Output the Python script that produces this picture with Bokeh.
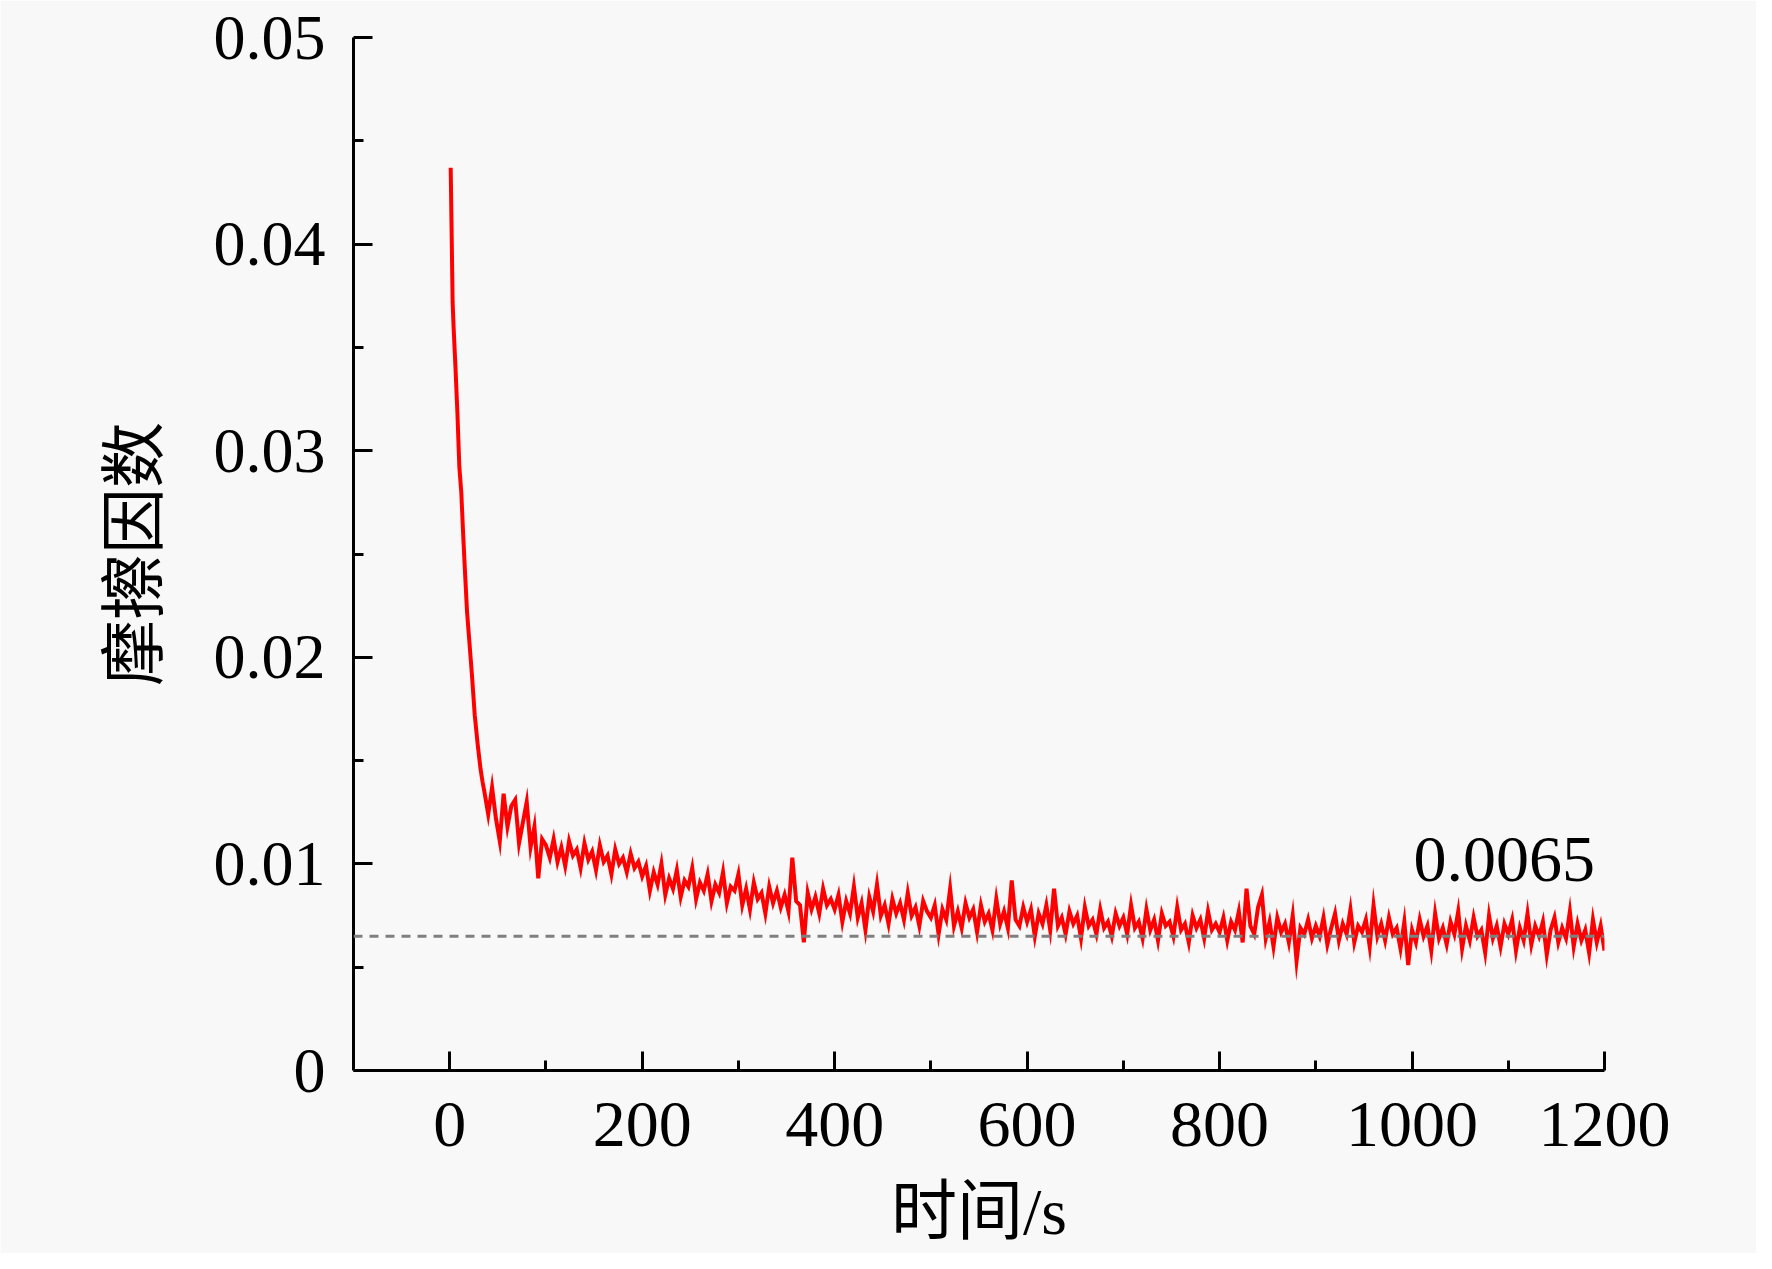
from bokeh.plotting import figure
from bokeh.models import Span, FixedTicker, ColumnDataSource
from bokeh.core.properties import value
from bokeh.embed import file_html
from bokeh.resources import INLINE

# ---- data ----
drop_time = [1, 2, 3, 4, 6, 8, 10, 12, 14, 16, 18, 20, 23, 26, 29, 32, 34]
drop_cof = [0.0437, 0.0405, 0.0372, 0.0360, 0.0340, 0.0318, 0.0292, 0.0280, 0.0259,
            0.0240, 0.0222, 0.0210, 0.0192, 0.0172, 0.0158, 0.0146, 0.0140]

steady_time = list(range(36, 1201, 4))
# values in units of 1e-4
steady_cof_e4 = [
    # 36-96
    135, 124, 137, 122, 111, 134, 118, 128, 131, 110, 120, 130, 108, 118, 93, 112,
    # 100-196
    109, 103, 112, 101, 108, 99, 111, 104, 107, 98, 110, 102, 106, 97, 109, 101, 104, 95, 107, 100, 103, 96, 105, 98, 101,
    # 200-296
    94, 99, 87, 96, 90, 100, 85, 93, 88, 97, 84, 92, 89, 98, 83, 91, 87, 95, 82, 90, 86, 96, 81, 89, 87,
    # 300-396
    95, 80, 88, 78, 91, 83, 86, 76, 89, 81, 87, 79, 85, 77, 103, 82, 80, 62, 86, 78, 84, 76, 88, 80, 83,
    # 400-496
    78, 85, 72, 82, 76, 89, 74, 81, 68, 84, 77, 90, 75, 80, 71, 83, 76, 81, 73, 86, 75, 79, 70, 82, 77,
    # 500-596
    74, 80, 66, 78, 73, 88, 70, 77, 69, 81, 74, 78, 67, 80, 72, 76, 68, 83, 71, 77, 69, 92, 73, 70, 79,
    # 600-696
    72, 78, 65, 76, 71, 80, 68, 88, 70, 74, 66, 77, 71, 75, 64, 79, 70, 73, 66, 78, 69, 72, 65, 76, 70,
    # 700-796
    74, 66, 80, 69, 72, 64, 78, 68, 73, 63, 76, 70, 72, 65, 79, 68, 71, 62, 75, 69, 73, 64, 77, 68, 71,
    # 800-896
    67, 74, 63, 72, 68, 77, 62, 88, 70, 66, 79, 85, 64, 72, 60, 74, 67, 71, 62, 75, 53, 69, 66, 73, 64,
    # 900-996
    70, 65, 74, 61, 69, 76, 63, 71, 66, 78, 62, 70, 67, 73, 60, 80, 65, 71, 63, 74, 66, 69, 59, 72, 51,
    # 1000-1096
    68, 62, 73, 65, 70, 58, 76, 64, 69, 61, 72, 66, 77, 59, 70, 63, 74, 65, 68, 57, 75, 64, 70, 60, 71,
    # 1100-1196
    66, 73, 58, 69, 63, 76, 61, 70, 65, 72, 56, 68, 74, 62, 69, 64, 77, 60, 71, 63, 68, 57, 73, 62, 70,
    # 1200
    58,
]

ref_value = 0.0065
ref_label = "0.0065"
label_x = 1190
label_y = 0.0102

x_ticks = [0, 200, 400, 600, 800, 1000, 1200]
x_minor = [100, 300, 500, 700, 900, 1100]
y_ticks = [0, 0.01, 0.02, 0.03, 0.04, 0.05]
y_minor = [0.005, 0.015, 0.025, 0.035, 0.045]
y_labels = ["0", "0.01", "0.02", "0.03", "0.04", "0.05"]

time = drop_time + steady_time
cof = drop_cof + [v * 1e-4 for v in steady_cof_e4]

# ---- figure ----
BG = "#f8f8f8"
SERIF = "'Liberation Serif', 'Noto Sans CJK SC'"

p = figure(width=1756, height=1253, output_backend="svg", toolbar_location=None,
           x_range=(-100, 1200), y_range=(0, 0.05),
           min_border_left=353, min_border_right=152,
           min_border_top=37, min_border_bottom=183)
p.background_fill_color = BG
p.border_fill_color = BG
p.outline_line_color = None
p.grid.visible = False

src = ColumnDataSource(dict(t=time, f=cof))
p.line("t", "f", source=src, line_color="#ff0000", line_width=4, line_join="miter")

p.add_layout(Span(location=ref_value, dimension="width", line_color="#7f7f7f",
                  line_width=3, line_dash="9 7"))

p.text(x=[label_x], y=[label_y], text=[ref_label], text_align="right",
       text_baseline="alphabetic", text_font=value("Liberation Serif"),
       text_font_size="66px", text_color="black")

for ax in (p.xaxis[0], p.yaxis[0]):
    ax.axis_line_width = 3
    ax.axis_line_color = "black"
    ax.major_tick_line_width = 3
    ax.minor_tick_line_width = 3
    ax.major_tick_in = 19
    ax.major_tick_out = 0
    ax.minor_tick_in = 10
    ax.minor_tick_out = 0
    ax.major_label_text_font = "Liberation Serif"
    ax.major_label_text_color = "black"
    ax.axis_label_text_font = SERIF
    ax.axis_label_text_font_style = "normal"
    ax.axis_label_text_font_size = "66px"
    ax.axis_label_text_color = "black"

p.xaxis.major_label_text_font_size = "66px"
p.yaxis.major_label_text_font_size = "64px"
p.xaxis.ticker = FixedTicker(ticks=x_ticks, minor_ticks=x_minor)
p.yaxis.ticker = FixedTicker(ticks=y_ticks, minor_ticks=y_minor)
p.yaxis.major_label_overrides = {t: l for t, l in zip(y_ticks, y_labels)}
p.xaxis.major_label_standoff = 32
p.yaxis.major_label_standoff = 28
p.xaxis.axis_label = "时间/s"
p.yaxis.axis_label = "摩擦因数"
p.xaxis.axis_label_standoff = 26
p.yaxis.axis_label_standoff = 40

open("out.html", "w").write(file_html(p, INLINE))
